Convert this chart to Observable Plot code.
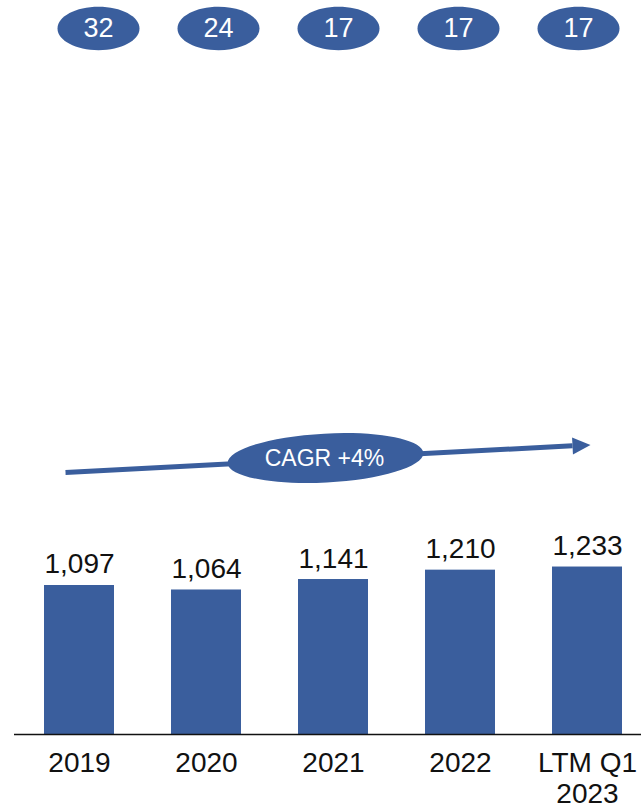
<!DOCTYPE html>
<html>
<head>
<meta charset="utf-8">
<script src="https://cdn.jsdelivr.net/npm/d3@7"></script>
<script src="https://cdn.jsdelivr.net/npm/@observablehq/plot@0.6"></script>
<style>
  html, body { margin: 0; padding: 0; background: #fff; }
  #chart { position: relative; width: 641px; height: 812px; }
  #badges { position: absolute; left: 0; top: 0; }
  #bars { position: absolute; left: 0; top: 0; }
</style>
</head>
<body>
<div id="chart"><div id="bars"></div><div id="badges"></div></div>
<script>
// Period labels along the x axis
const periods = ["2019", "2020", "2021", "2022", "LTM Q1\n2023"];
// Bar values
const values = [1097, 1064, 1141, 1210, 1233];
// Figures shown in the row of badges above the chart
const badgeValues = [32, 24, 17, 17, 17];
// Growth arrow, start and end heights in value units
const arrowLevels = [1935, 2131];
const cagrLevel = 2035;
const cagrLabel = "CAGR +4%";

const blue = "#3A5E9D";
const font = "'Liberation Sans', Arial, sans-serif";

// Ellipse drawn as a custom symbol, optionally tilted
function ellipseSymbol(ratio, angleDeg = 0) {
  const a = angleDeg * Math.PI / 180, c = Math.cos(a), s = Math.sin(a);
  const p = (x, y) => [x * c - y * s, x * s + y * c];
  return {
    draw(ctx, size) {
      const rx = Math.sqrt(size / Math.PI), ry = rx * ratio, k = 0.5523;
      ctx.moveTo(...p(rx, 0));
      ctx.bezierCurveTo(...p(rx, ry * k), ...p(rx * k, ry), ...p(0, ry));
      ctx.bezierCurveTo(...p(-rx * k, ry), ...p(-rx, ry * k), ...p(-rx, 0));
      ctx.bezierCurveTo(...p(-rx, -ry * k), ...p(-rx * k, -ry), ...p(0, -ry));
      ctx.bezierCurveTo(...p(rx * k, -ry), ...p(rx, -ry * k), ...p(rx, 0));
      ctx.closePath();
    }
  };
}
// Filled arrow head with its tip at the symbol origin
function headSymbol(ratio, angleDeg = 0) {
  const a = angleDeg * Math.PI / 180, c = Math.cos(a), s = Math.sin(a);
  const rot = (x, y) => [x * c - y * s, x * s + y * c];
  return {
    draw(ctx, size) {
      const L = Math.sqrt(size / Math.PI), h = L * ratio;
      ctx.moveTo(...rot(0, 0));
      ctx.lineTo(...rot(-L, -h));
      ctx.lineTo(...rot(-L, h));
      ctx.closePath();
    }
  };
}

const data = periods.map((p, i) => ({period: p, value: values[i]}));
const fmt = d3.format(",");
const tilt = -3;

const bars = Plot.plot({
  width: 641,
  height: 812,
  marginLeft: 14,
  marginRight: 0,
  marginTop: 0,
  marginBottom: 78,
  style: {fontFamily: font, fontSize: "28px", color: "#111", background: "transparent"},
  x: {domain: periods, range: [14.25, 651.75], paddingInner: 0.45, paddingOuter: 0.225, label: null},
  y: {domain: [0, 5404], range: [734, 0], axis: null},
  marks: [
    Plot.barY(data, {x: "period", y: "value", fill: blue}),
    Plot.ruleY([0], {stroke: "#111", strokeWidth: 1.5}),
    Plot.text(data, {x: "period", y: "value", text: d => fmt(d.value), dy: -12, lineAnchor: "bottom", fill: "#111", fontSize: 28}),
    Plot.axisX({tickSize: 0, tickPadding: 15, fontSize: 28, lineHeight: 1.12, fill: "#111", label: null}),
    Plot.arrow([{x1: periods[0], x2: periods[4], y1: arrowLevels[0], y2: arrowLevels[1]}], {
      x1: "x1", x2: "x2", y1: "y1", y2: "y2",
      stroke: blue, strokeWidth: 5, headLength: 0, insetStart: -14, insetEnd: 15, strokeLinecap: "butt"
    }),
    Plot.dot([{x: periods[4], y: arrowLevels[1]}], {
      x: "x", y: "y", dx: 3, r: 18, fill: blue, stroke: null, symbol: headSymbol(0.47, tilt)
    }),
    Plot.dot([{x: periods[2], y: cagrLevel}], {
      x: "x", y: "y", dx: -8, r: 98, fill: blue, stroke: null, symbol: ellipseSymbol(0.25, tilt)
    }),
    Plot.text([cagrLabel], {
      x: () => periods[2], y: () => cagrLevel, text: d => d, dx: -9, dy: 1, fill: "#fff", fontSize: 23
    })
  ]
});
document.getElementById("bars").append(bars);

const badgeData = periods.map((p, i) => ({period: p, n: badgeValues[i]}));
const badges = Plot.plot({
  width: 641,
  height: 60,
  margin: 0,
  marginBottom: 4,
  style: {fontFamily: font, background: "transparent"},
  x: {type: "point", domain: periods, range: [97, 578], padding: 0, axis: null},
  marks: [
    Plot.dot(badgeData, {x: "period", r: 41, fill: blue, stroke: null, symbol: ellipseSymbol(0.53)}),
    Plot.text(badgeData, {x: "period", text: d => String(d.n), fill: "#fff", fontSize: 27})
  ]
});
document.getElementById("badges").append(badges);
</script>
</body>
</html>
